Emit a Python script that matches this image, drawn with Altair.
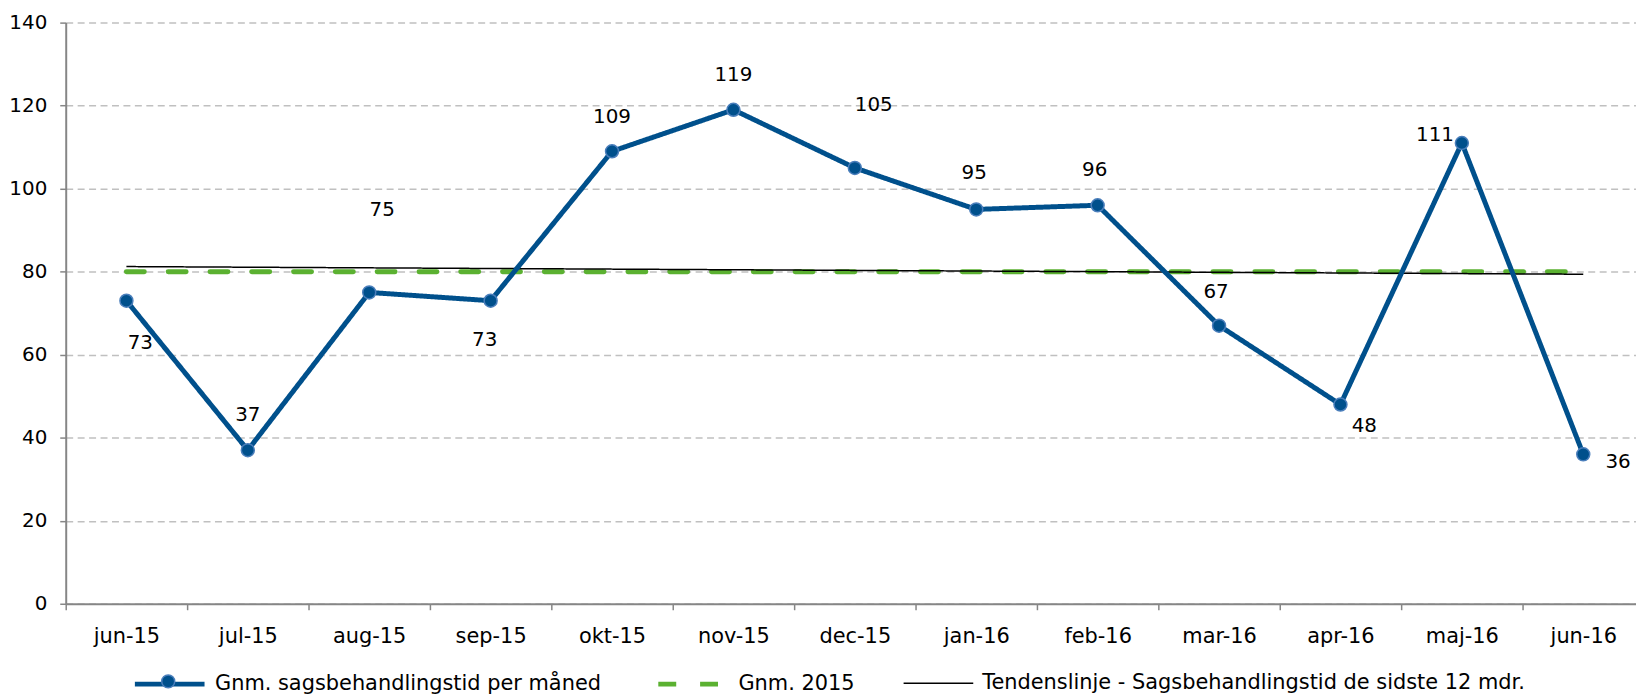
import json
import altair as alt
import pandas as pd

# ---------------- data ----------------
months = ["jun-15", "jul-15", "aug-15", "sep-15", "okt-15", "nov-15", "dec-15",
          "jan-16", "feb-16", "mar-16", "apr-16", "maj-16", "jun-16"]
values = [73, 37, 75, 73, 109, 119, 105, 95, 96, 67, 48, 111, 36]
avg_2015 = 80
series_names = ["Gnm. sagsbehandlingstid per måned",
                "Gnm. 2015",
                "Tendenslinje - Sagsbehandlingstid de sidste 12 mdr."]
y_ticks = [0, 20, 40, 60, 80, 100, 120, 140]

# ---------------- layout (label offsets in px, as placed in the original) ----------------
label_offsets = {
    "jun-15": (14, 43), "jul-15": (0, -35), "aug-15": (13, -83), "sep-15": (-6, 39),
    "okt-15": (0, -34), "nov-15": (0, -35), "dec-15": (19, -63), "jan-16": (-2, -37),
    "feb-16": (-3, -35), "mar-16": (-3, -34), "apr-16": (24, 22), "maj-16": (-27, -8),
    "jun-16": (35, 8),
}

FONT = "DejaVu Sans"
BLUE = "#00508C"
RING = "#4A7EBB"
GREEN = "#5BB131"
AXIS_GREY = "#868686"
MARKER_SIZE = 170
LEGEND_Y = 627

df_main = pd.DataFrame({"month": months, "idx": list(range(len(months))),
                        "value": values, "series": series_names[0]})
df_avg = pd.DataFrame({"month": months, "value": [avg_2015] * len(months),
                       "series": series_names[1]})

x_enc = alt.X("month:N", sort=months,
              scale=alt.Scale(type="band", domain=months, range=[0, 1586],
                              paddingInner=0, paddingOuter=0),
              axis=alt.Axis(title=None, labelAngle=0, tickBand="extent", grid=False,
                            tickSize=6, tickColor=AXIS_GREY, tickWidth=1.5,
                            domainColor=AXIS_GREY, domainWidth=2,
                            labelFont=FONT, labelFontSize=21, labelColor="black",
                            labelPadding=16, labelOverlap=False))
y_enc = alt.Y("value:Q", scale=alt.Scale(domain=[0, 140], nice=False, zero=True),
              axis=alt.Axis(title=None, values=y_ticks, grid=True, gridDash=[7, 4.5],
                            gridColor="#C0C0C0", gridWidth=1.5,
                            domainColor=AXIS_GREY, domainWidth=2,
                            tickColor=AXIS_GREY, tickWidth=1.5, tickSize=6,
                            labelFont=FONT, labelFontSize=20, labelColor="black",
                            labelPadding=13))

legend = alt.Legend(title=None, orient="none", legendX=67, legendY=LEGEND_Y,
                    direction="horizontal", symbolType="stroke", symbolSize=4900,
                    labelFont=FONT, labelFontSize=21, labelColor="black",
                    labelOffset=8, columnPadding=46, padding=0, labelLimit=1000)

color_enc = alt.Color("series:N", scale=alt.Scale(domain=series_names,
                                                  range=[BLUE, GREEN, "#000000"]),
                      legend=legend)
dash_enc = alt.StrokeDash("series:N", scale=alt.Scale(domain=series_names,
                                                      range=[[1, 0], [18, 24], [1, 0]]),
                          legend=legend)
width_enc = alt.StrokeWidth("series:N", scale=alt.Scale(type="ordinal", domain=series_names,
                                                        range=[5, 5, 1.5]),
                            legend=legend)

# marker legend: the dot on the first legend line
dot_legend = alt.Legend(title=None, orient="none", legendX=95.5, legendY=LEGEND_Y + 27.5,
                        symbolType="circle", symbolSize=MARKER_SIZE,
                        symbolStrokeColor=RING, symbolStrokeWidth=1.5, symbolOpacity=1,
                        labelExpr="''", labelFontSize=1, labelOffset=0, padding=0)
fill_enc = alt.Fill("series:N", scale=alt.Scale(domain=[series_names[0]], range=[BLUE]),
                    legend=dot_legend)

avg_line = alt.Chart(df_avg).mark_line(strokeCap="round").encode(
    x=x_enc, y=y_enc, color=color_enc, strokeDash=dash_enc, strokeWidth=width_enc)

trend_line = (
    alt.Chart(df_main)
    .transform_regression("idx", "value", method="linear")
    .transform_calculate(month=f"{json.dumps(months)}[datum.idx]",
                         series=f"'{series_names[2]}'")
    .mark_line()
    .encode(x=x_enc, y=y_enc, color=color_enc, strokeDash=dash_enc, strokeWidth=width_enc)
)

main_line = alt.Chart(df_main).mark_line(strokeJoin="round").encode(
    x=x_enc, y=y_enc, color=color_enc, strokeDash=dash_enc, strokeWidth=width_enc)

points = alt.Chart(df_main).mark_point(shape="circle", filled=True, size=MARKER_SIZE,
                                       stroke=RING, strokeWidth=1.5, opacity=1).encode(
    x=x_enc, y=y_enc, fill=fill_enc)

label_layers = []
for m in months:
    dx, dy = label_offsets[m]
    label_layers.append(
        alt.Chart(df_main).transform_filter(alt.datum.month == m)
        .mark_text(dx=dx, dy=dy, font=FONT, fontSize=20, color="black",
                   align="center", baseline="middle")
        .encode(x=x_enc, y=y_enc, text="value:Q")
    )

chart = (
    alt.layer(avg_line, trend_line, main_line, points, *label_layers)
    .properties(width=1578, height=584,
                padding={"left": 58, "top": 13, "right": 0, "bottom": 90},
                autosize=alt.AutoSizeParams(type="none"),
                background="white")
    .configure_view(stroke=None)
)

chart.save("out.html", embed_options={"renderer": "svg", "actions": False})
